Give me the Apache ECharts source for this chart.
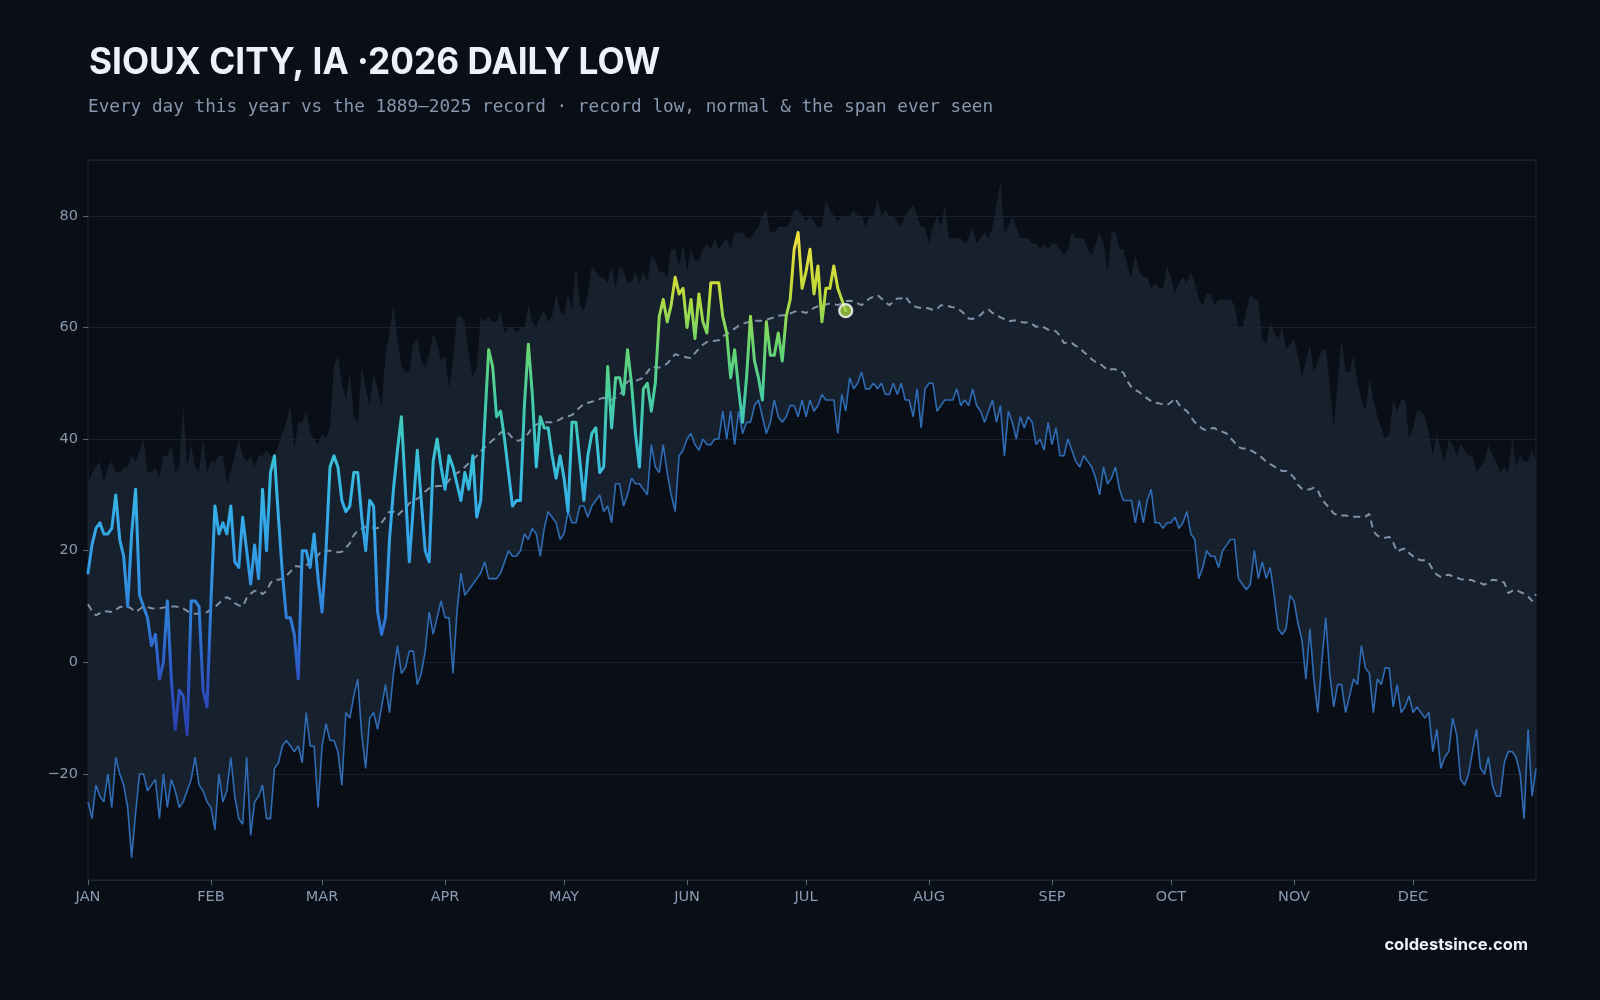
<!DOCTYPE html>
<html>
<head>
<meta charset="utf-8">
<script src="https://cdn.jsdelivr.net/npm/echarts@6/dist/echarts.min.js"></script>
<style>
  html, body { margin: 0; padding: 0; background: #0a0e16; }
  #chart { width: 1600px; height: 1000px; }
</style>
</head>
<body>
<div id="chart"></div>
<script>
// month ticks on the day-of-year axis (366 slots)
const monthStarts = [0, 31, 59, 90, 120, 151, 181, 212, 243, 273, 304, 334];
const monthNames = ['JAN', 'FEB', 'MAR', 'APR', 'MAY', 'JUN', 'JUL', 'AUG', 'SEP', 'OCT', 'NOV', 'DEC'];

// warmest low ever seen for each day, 1889-2025 (top of the band)
const recordHigh = [
  32,34,35,36,32,35,36,34,34,35, 35,37,36,38,40,34,34,35,33,37,
  37,39,34,35,46,35,39,35,34,40, 34,36,36,37,37,32,34,37,40,37,
  36,37,35,37,37,38,37,37,39,41, 43,46,38,43,43,45,41,40,39,41,
  40,42,53,55,50,47,52,44,43,53, 49,46,52,49,46,55,59,64,58,53,
  52,52,57,58,54,53,55,59,57,54, 55,49,54,62,62,61,55,51,53,62,
  61,62,61,61,63,59,60,60,59,60, 60,64,61,60,62,63,61,62,66,63,
  62,66,63,71,64,63,66,71,70,69, 69,68,71,67,71,70,68,68,70,68,
  70,68,73,72,70,70,69,74,74,71, 75,70,74,72,72,74,75,74,76,74,
  75,76,74,77,77,77,76,76,77,78, 80,81,77,77,78,78,78,79,81,81,
  80,79,80,79,78,78,83,81,80,79, 80,80,80,81,80,80,78,80,80,83,
  80,81,80,80,79,78,80,81,82,80, 78,78,75,78,80,78,82,76,76,76,
  76,75,76,78,75,76,77,76,78,82, 86,77,78,80,78,76,76,76,75,75,
  74,75,74,75,75,74,73,74,77,76, 76,76,74,73,75,77,75,70,77,77,
  74,74,71,69,73,70,69,69,67,68, 67,67,71,69,66,68,69,68,70,68,
  65,64,66,66,64,65,65,65,65,64, 60,60,63,66,65,65,58,57,61,59,
  58,60,56,57,58,55,51,54,57,52, 54,56,56,50,42,50,58,52,52,55,
  50,47,45,51,47,44,42,40,41,47, 45,47,47,40,42,45,45,44,41,37,
  41,38,36,40,39,37,39,38,37,37, 34,35,36,39,37,36,34,35,34,40,
  35,37,36,36,38,36
];

// record low for each day, 1889-2025
const recordLow = [
  -25,-28,-22,-24,-25,-20,-26,-17,-20,-22, -26,-35,-27,-20,-20,-23,-22,-21,-28,-20,
  -26,-21,-23,-26,-25,-23,-21,-17,-22,-23, -25,-26,-30,-20,-25,-23,-17,-24,-28,-29,
  -17,-31,-25,-24,-22,-28,-28,-19,-18,-15, -14,-15,-16,-15,-18,-9,-15,-15,-26,-15,
  -11,-14,-14,-16,-22,-9,-10,-6,-3,-13, -19,-10,-9,-12,-8,-4,-9,-2,3,-2,
  -1,2,2,-4,-2,2,9,5,8,11, 8,8,-2,9,16,12,13,14,15,16,
  18,15,15,15,16,18,20,19,19,20, 23,22,24,23,19,24,27,26,25,22,
  23,27,25,25,28,28,26,28,29,30, 27,28,25,32,32,28,30,33,32,32,
  31,30,39,35,34,39,34,30,27,37, 38,40,41,39,38,40,39,39,40,40,
  45,40,45,39,45,41,43,43,46,47, 44,41,43,47,44,43,44,46,46,44,
  47,44,47,45,46,48,47,47,47,41, 48,45,51,49,50,52,49,49,50,49,
  50,48,48,50,48,50,47,47,44,49, 42,49,50,50,45,46,47,47,47,49,
  46,47,46,49,46,45,43,45,47,43, 46,37,45,43,40,44,42,44,43,39,
  40,38,43,39,42,37,37,40,38,36, 35,37,36,35,33,30,35,32,33,35,
  31,29,29,29,25,29,25,29,31,25, 25,24,25,25,26,24,25,27,23,22,
  15,17,20,19,19,17,20,21,22,22, 15,14,13,14,20,15,18,15,17,12,
  6,5,6,12,11,7,4,-3,6,-3, -9,0,8,-2,-8,-4,-4,-9,-6,-3,
  -4,3,-1,-2,-9,-3,-4,-1,-1,-8, -4,-9,-8,-6,-9,-8,-9,-10,-9,-16,
  -12,-19,-17,-16,-10,-13,-21,-22,-20,-16, -12,-19,-20,-17,-22,-24,-24,-18,-16,-16,
  -17,-20,-28,-12,-24,-19
];

// normal daily low
const normalLow = [
  10.4,9.2,8.4,8.8,9.2,9.1,9.0,9.4,9.9,10.0, 10.0,9.6,9.0,9.5,10.0,9.9,9.7,9.6,9.7,9.8,
  9.9,10.0,10.0,9.9,9.6,9.2,8.8,8.7,8.7,8.8, 9.0,9.5,9.9,10.6,11.2,11.7,11.3,10.6,10.2,10.0,
  11.5,12.3,12.8,12.9,12.2,12.8,14.2,14.8,14.8,15.0, 15.5,16.2,17.2,17.2,17.0,17.3,18.0,18.6,19.2,20.0,
  20.0,20.0,19.9,19.7,19.8,20.5,21.3,22.8,23.6,24.0, 24.3,24.3,24.1,24.0,25.0,26.0,27.0,27.0,26.3,27.0,
  27.5,28.5,29.0,29.3,29.8,30.6,31.2,31.4,31.6,31.6, 31.7,32.6,33.5,33.9,34.3,35.0,35.7,36.3,37.0,37.8,
  38.5,39.2,39.8,40.4,41.1,41.6,41.0,40.2,39.7,39.8, 40.3,41.0,42.2,42.6,42.9,43.0,43.0,43.0,43.2,43.5,
  44.0,44.1,44.3,45.0,45.7,46.3,46.5,46.7,46.9,47.2, 47.4,47.2,47.0,47.4,47.8,49.0,50.3,50.6,50.4,50.7,
  51.0,52.0,53.0,52.9,52.8,53.1,53.5,54.4,55.2,55.0, 54.8,54.6,54.5,55.4,56.2,56.9,57.4,57.5,57.6,57.7,
  58.4,58.8,59.3,59.8,60.3,60.6,60.9,61.0,61.2,61.2, 61.2,61.4,61.6,61.8,62.1,62.2,62.2,62.5,62.8,63.0,
  62.8,62.6,63.0,63.5,63.8,64.0,64.1,64.3,64.2,64.0, 64.3,64.7,64.8,64.7,64.3,64.0,64.6,65.2,65.5,65.8,
  65.2,64.5,64.0,64.6,65.2,65.2,65.6,64.6,63.9,63.6, 63.5,63.5,63.4,63.1,63.3,64.0,63.9,63.8,63.6,63.5,
  63.0,62.4,61.6,61.5,62.0,62.2,63.0,63.2,62.6,62.2, 61.8,61.5,61.1,61.2,61.3,61.0,60.9,60.9,60.6,60.1,
  60.3,60.0,59.6,59.5,59.3,58.5,57.2,57.3,57.2,56.7, 56.3,55.6,55.0,54.3,53.8,53.5,53.0,52.3,52.5,52.5,
  52.2,51.9,50.4,49.3,48.8,48.4,47.8,47.3,46.8,46.5, 46.4,46.2,46.1,46.6,47.3,46.2,45.5,45.0,44.0,43.0,
  42.4,41.8,41.6,41.9,42.0,41.4,41.3,41.0,40.2,39.4, 38.6,38.3,38.3,38.0,37.6,37.2,36.6,36.0,35.5,35.1,
  34.6,34.3,34.3,33.8,33.1,31.8,31.1,30.9,31.0,31.3, 30.8,29.2,28.4,27.6,26.7,26.3,26.3,26.3,26.2,26.1,
  26.1,26.1,26.1,26.6,23.5,22.7,22.4,22.3,22.5,21.5, 19.8,20.2,20.4,19.6,19.0,18.5,18.3,18.3,17.8,16.6,
  15.7,15.3,15.6,15.7,15.4,15.2,14.9,14.8,14.8,14.7, 14.3,14.2,13.9,14.3,14.8,14.7,14.5,14.3,12.4,12.8,
  13.0,12.6,12.3,11.8,11.0,12.2
];

// 2026 daily low so far (Jan 1 .. Jul 11)
const low2026 = [
  16,21,24,25,23,23,24,30,22,19, 10,23,31,12,10,8,3,5,-3,0,
  11,-3,-12,-5,-6,-13,11,11,10,-5, -8,11,28,23,25,23,28,18,17,26,
  20,14,21,15,31,20,34,37,26,16, 8,8,5,-3,20,20,17,23,15,9,
  20,35,37,35,29,27,28,34,34,26, 20,29,28,9,5,8,22,31,38,44,
  31,18,28,38,29,20,18,36,40,35, 31,37,35,32,29,34,31,37,26,29,
  43,56,53,44,45,40,34,28,29,29, 46,57,48,35,44,42,42,37,33,37,
  33,27,43,43,36,29,37,41,42,34, 35,53,42,51,51,48,56,50,41,35,
  49,50,45,50,62,65,61,64,69,66, 67,60,65,58,66,61,59,68,68,68,
  62,59,51,56,49,43,51,62,54,51, 47,61,55,55,59,54,62,65,74,77,
  67,70,74,66,71,61,67,67,71,67, 65,63
];

const dayIndex = recordLow.map((_, i) => i);
const bandSpan = recordHigh.map((v, i) => v - recordLow[i]);
const lastIdx = low2026.length - 1;
const isMonthStart = i => monthStarts.indexOf(i) >= 0;

const chart = echarts.init(document.getElementById('chart'));

chart.setOption({
  backgroundColor: '#0a0e16',
  animation: false,
  graphic: [
    { type: 'text', x: 89, y: 63.5, scaleX: 0.965, silent: true,
      style: { text: 'SIOUX CITY, IA ·2026 DAILY LOW', fill: '#eef2f8', x: 0, y: 0,
               verticalAlign: 'middle', align: 'left',
               font: '700 36.5px Inter, "Noto Sans", sans-serif' } },
    { type: 'text', x: 88, y: 107.6, silent: true,
      style: { text: 'Every day this year vs the 1889\u20132025 record \u00b7 record low, normal & the span ever seen',
               x: 0, y: 0, verticalAlign: 'middle', align: 'left',
               fill: '#8797ad', font: '17.7px "DejaVu Sans Mono", monospace' } },
    { type: 'text', x: 1528, y: 945, silent: true,
      style: { text: 'coldestsince.com', fill: '#eef2f8', x: 0, y: 0,
               verticalAlign: 'middle', align: 'right',
               font: '700 16.5px Inter, "Noto Sans", sans-serif' } }
  ],
  grid: {
    left: 88, right: 64, top: 160, bottom: 120,
    show: true, borderColor: '#1b2737', borderWidth: 1, backgroundColor: 'transparent'
  },
  xAxis: {
    type: 'category',
    data: dayIndex,
    boundaryGap: false,
    axisLine: { show: true, onZero: false, lineStyle: { color: '#1b2737' } },
    axisTick: { show: true, interval: isMonthStart, length: 5, lineStyle: { color: '#56667c' } },
    axisLabel: {
      interval: isMonthStart,
      formatter: (v, i) => monthNames[monthStarts.indexOf(i)],
      color: '#8a9ab0', fontSize: 14.5, fontFamily: '"DejaVu Sans", sans-serif', margin: 10
    },
    splitLine: { show: false }
  },
  yAxis: {
    type: 'value',
    min: -39, max: 90,
    splitNumber: 6, minInterval: 20, maxInterval: 20,
    axisLine: { show: false },
    axisTick: { show: true, length: 5, lineStyle: { color: '#56667c' } },
    axisLabel: {
      showMinLabel: false, showMaxLabel: false,
      formatter: v => (v < 0 ? '\u2212' + Math.abs(v) : String(v)),
      color: '#8a9ab0', fontSize: 14.5, fontFamily: '"DejaVu Sans", sans-serif', margin: 10
    },
    splitLine: { show: true, lineStyle: { color: '#182231', width: 1 } }
  },
  visualMap: {
    show: false, type: 'continuous', seriesIndex: 4, dimension: 1,
    min: -13, max: 77,
    inRange: { color: ['#2b3fae', '#2c55c3', '#2f78d6', '#3399e3', '#35aee8',
                       '#39c2d8', '#45cca4', '#6ad56c', '#c4dc3a', '#f2e03e'] }
  },
  series: [
    { name: 'base', type: 'line', data: recordLow, stack: 'band', stackStrategy: 'all',
      symbol: 'none', lineStyle: { width: 0, opacity: 0 }, silent: true, z: 1 },
    { name: 'span', type: 'line', data: bandSpan, stack: 'band', stackStrategy: 'all',
      symbol: 'none', lineStyle: { width: 0, opacity: 0 },
      areaStyle: { color: 'rgba(27,38,54,0.78)', opacity: 1 }, silent: true, z: 1 },
    { name: 'Record low', type: 'line', data: recordLow, symbol: 'none',
      lineStyle: { color: '#2f6cb4', width: 1.6 }, z: 3 },
    { name: 'Normal', type: 'line', data: normalLow, symbol: 'none',
      lineStyle: { color: '#8090a7', width: 2, type: [7, 5] }, z: 3 },
    { name: '2026', type: 'line', data: low2026, symbol: 'none',
      lineStyle: { width: 3, cap: 'round', join: 'round' }, z: 5 },
    { name: 'latest', type: 'scatter', data: [[lastIdx, low2026[lastIdx]]],
      symbol: 'circle', symbolSize: 13,
      itemStyle: { color: '#a0cf3e', borderColor: '#ffffff', borderWidth: 2.2 }, z: 6 }
  ]
});
</script>
</body>
</html>
